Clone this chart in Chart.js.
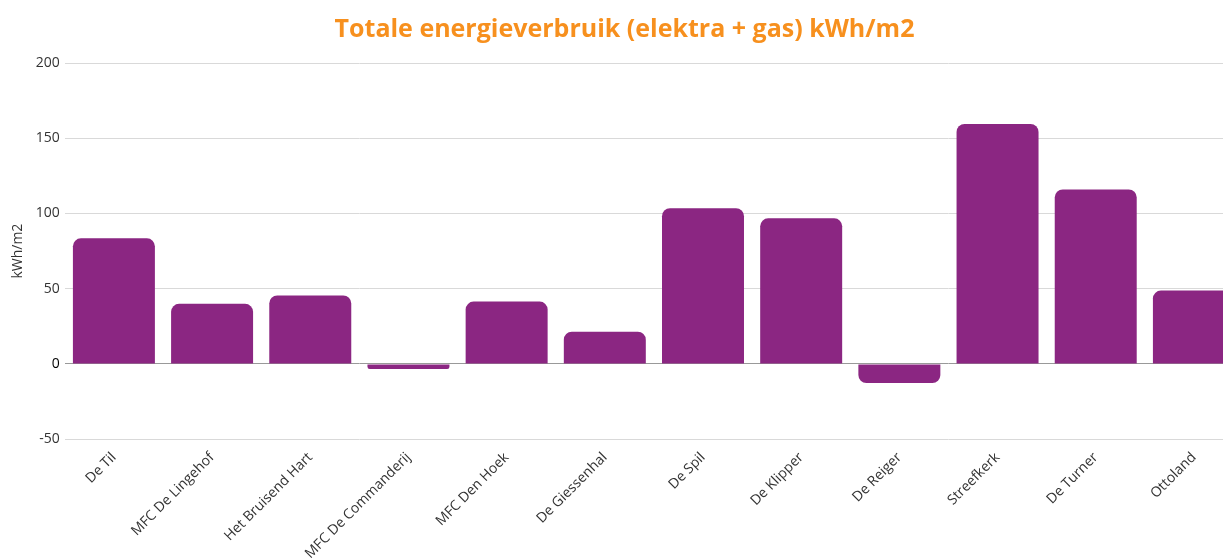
<!DOCTYPE html>
<html lang="nl">
<head>
    <meta charset="UTF-8">
    <title>Totale energieverbruik</title>
    <script src="https://cdn.jsdelivr.net/npm/chart.js@4.4.0/dist/chart.umd.min.js"></script>
    <style>
        html, body { margin: 0; padding: 0; overflow: hidden; background: #fff; }
        #wrap { position: relative; width: 1243px; height: 572px; }
    </style>
</head>
<body>
    <div id="wrap"><canvas id="myChart"></canvas></div>

    <script>
        const locaties = ['De Til', 'MFC De Lingehof', 'Het Bruisend Hart', 'MFC De Commanderij', 'MFC Den Hoek',
            'De Giessenhal', 'De Spil', 'De Klipper', 'De Reiger', 'Streefkerk', 'De Turner', 'Ottoland'];
        const verbruik = [83.5, 40, 45.5, -3.3, 41.5, 21.5, 103.5, 96.8, -12.7, 159.5, 116, 48.8];
        const yMin = -50;
        const yMax = 200;
        const yStep = 50;

        Chart.defaults.font.family = "'Open Sans', sans-serif";
        Chart.defaults.color = '#333';

        const ctx = document.getElementById('myChart').getContext('2d');
        const myChart = new Chart(ctx, {
            type: 'bar',
            data: {
                labels: locaties,
                datasets: [{
                    label: 'kWh/m2',
                    data: verbruik,
                    backgroundColor: '#8b2682',
                    borderRadius: 8,
                    borderSkipped: 'start',
                    barPercentage: 0.835,
                    categoryPercentage: 1
                }]
            },
            options: {
                responsive: true,
                maintainAspectRatio: false,
                animation: false,
                layout: { padding: { left: 6, right: 0, top: 0 } },
                plugins: {
                    legend: { display: false },
                    tooltip: { enabled: false },
                    title: {
                        display: true,
                        text: 'Totale energieverbruik (elektra + gas) kWh/m2',
                        color: '#f7901e',
                        font: { size: 25, weight: 'bold' },
                        padding: { top: 15, bottom: 18 }
                    }
                },
                scales: {
                    x: {
                        grid: { display: false, drawTicks: false },
                        border: { display: false },
                        ticks: {
                            minRotation: 45,
                            maxRotation: 45,
                            font: { size: 14 },
                            color: '#333',
                            padding: 10
                        }
                    },
                    y: {
                        min: yMin,
                        max: yMax,
                        border: { display: false },
                        grid: {
                            color: (c) => c.tick && c.tick.value === 0 ? '#999' : '#d9d9d9',
                            lineWidth: 1,
                            drawTicks: false
                        },
                        ticks: {
                            stepSize: yStep,
                            font: { size: 14 },
                            color: (c) => c.tick && c.tick.value === 0 ? '#000' : '#333',
                            padding: 5
                        },
                        title: {
                            display: true,
                            text: 'kWh/m2',
                            font: { size: 14 },
                            color: '#333',
                            padding: 4
                        }
                    }
                }
            }
        });
    </script>
</body>
</html>
